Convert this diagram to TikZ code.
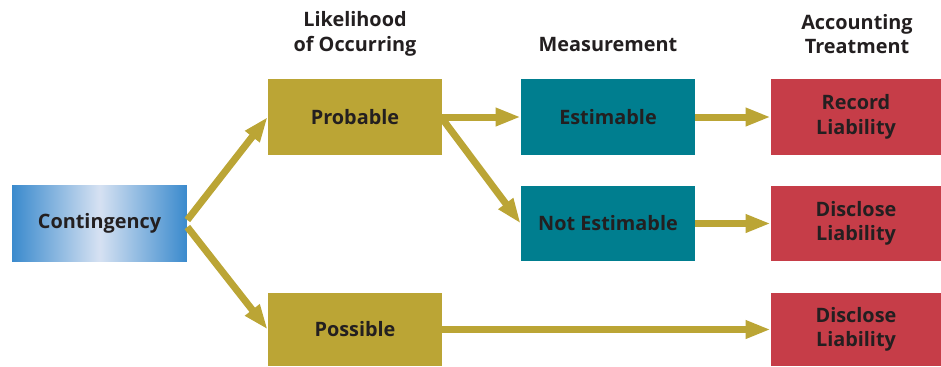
\documentclass[tikz,border=0pt]{standalone}
\usepackage{fontspec}
\setmainfont{Open Sans}
\usetikzlibrary{arrows.meta}
\definecolor{mustard}{HTML}{BBA535}
\definecolor{petrol}{HTML}{007E8F}
\definecolor{brick}{HTML}{C63D48}
\definecolor{cblue}{HTML}{3A8ACD}
\definecolor{cpale}{HTML}{D6E1F2}
\definecolor{ink}{HTML}{231F20}

\begin{document}
\begin{tikzpicture}[x=0.02cm, y=-0.02cm,
  box/.style={minimum width=3.48cm, minimum height=1.52cm, inner sep=0pt,
    text=ink, align=center, font=\bfseries\fontsize{11.3}{14}\selectfont},
  head/.style={text=ink, align=center, font=\bfseries\fontsize{11.3}{14}\selectfont},
  flow/.style={-{Triangle[length=0.5cm, width=0.34cm]}, mustard, line width=0.14cm}]

% frame of the picture (pixel units, y downwards)
\useasboundingbox (0,0) rectangle (941,366);

% Column headings
\node[head] (hlike) at (355,34) {Likelihood\\of Occurring};
\node[head] (hmeas) at (608,45) {Measurement};
\node[head] (hacct) at (857,34) {Accounting\\Treatment};

% Contingency
\node[box, minimum width=3.5cm, minimum height=1.54cm,
  left color=cblue, right color=cblue, middle color=cpale] (cont) at (99.5,223.5) {Contingency};

% Likelihood
\node[box, fill=mustard] (prob) at (355,117) {Probable};
\node[box, fill=mustard, minimum height=1.46cm] (poss) at (355,329.5) {Possible};

% Measurement
\node[box, fill=petrol] (est) at (608,117) {Estimable};
\node[box, fill=petrol] (nest) at (608,223.5) {Not Estimable};

% Accounting treatment
\node[box, fill=brick, minimum width=3.4cm] (rec) at (856,117) {Record\\Liability};
\node[box, fill=brick, minimum width=3.4cm] (disA) at (856,223.5) {Disclose\\Liability};
\node[box, fill=brick, minimum width=3.4cm, minimum height=1.46cm] (disB) at (856,329.5) {Disclose\\Liability};

% Arrows
\draw[flow] ([yshift=2pt]cont.east) -- (prob.west);
\draw[flow] ([yshift=-2pt]cont.east) -- (poss.west);
\draw[flow] (prob.east) -- (est.west);
\draw[flow] ([yshift=-1pt]prob.east) -- (nest.west);
\draw[flow] (est.east) -- (rec.west);
\draw[flow] (nest.east) -- (disA.west);
\draw[flow] (poss.east) -- (disB.west);

\end{tikzpicture}
\end{document}
